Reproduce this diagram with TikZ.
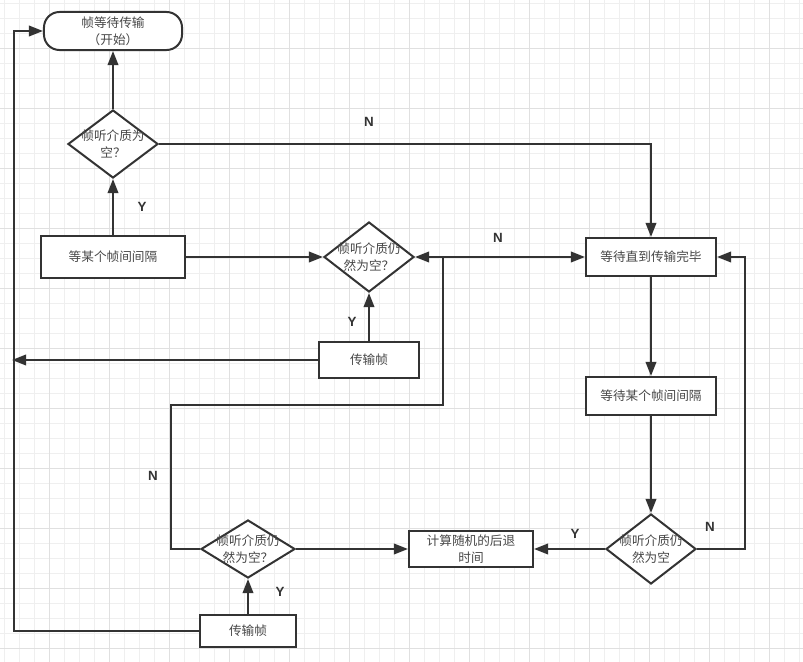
\documentclass[tikz,border=0pt]{standalone}
\usepackage{fontspec}
\setmainfont{Liberation Sans}
\newfontfamily\cjk{Noto Sans CJK SC}
\usetikzlibrary{arrows.meta,shapes.geometric}

\definecolor{linegray}{HTML}{333333}
\definecolor{textgray}{HTML}{474747}
\definecolor{gridminor}{HTML}{EFEFEF}
\definecolor{gridmajor}{HTML}{E0E0E0}

\begin{document}
\begin{tikzpicture}[x=0.025cm, y=-0.025cm, >={Triangle[length=10pt,width=7.5pt]}]
    \tikzstyle{procbox} = [rectangle, draw=linegray, line width=0.05cm, fill=white, text=textgray, font=\cjk\fontsize{9}{12}\selectfont, align=center, inner sep=0pt];
    \tikzstyle{startbox} = [procbox, rounded corners=11pt];
    \tikzstyle{decision} = [diamond, draw=linegray, line width=0.05cm, fill=white, inner sep=0pt];
    \tikzstyle{dtext} = [text=textgray, font=\cjk\fontsize{9}{12}\selectfont, align=center];
    \tikzstyle{flow} = [draw=linegray, line width=0.05cm];
    \tikzstyle{yn} = [text=linegray, font=\bfseries\fontsize{9.5}{11}\selectfont];

    % background grid
    \useasboundingbox (0,0) rectangle (803,662);
    \fill[white] (0,0) rectangle (803,662);
    \foreach \gx in {4,19,...,799} \draw[gridminor, line width=0.5pt] (\gx,0) -- (\gx,662);
    \foreach \gy in {3,18,...,648} \draw[gridminor, line width=0.5pt] (0,\gy) -- (803,\gy);
    \foreach \gx in {49,109,...,769} \draw[gridmajor, line width=0.5pt] (\gx,0) -- (\gx,662);
    \foreach \gy in {48,108,...,648} \draw[gridmajor, line width=0.5pt] (0,\gy) -- (803,\gy);

    % left column
    \node[startbox, minimum width=3.45cm, minimum height=0.95cm] (start) at (113,31) {帧等待传输\\（开始）};
    \node[decision, minimum width=2.25cm, minimum height=1.7cm, label={[dtext]center:帧听介质为\\空？}] (sense1) at (113,144) {};
    \node[procbox, minimum width=3.6cm, minimum height=1.05cm] (ifs1) at (113,257) {等某个帧间间隔};

    % middle column
    \node[decision, minimum width=2.25cm, minimum height=1.75cm, label={[dtext]center:帧听介质仍\\然为空？}] (sense2) at (369,257) {};
    \node[procbox, minimum width=2.5cm, minimum height=0.9cm] (send1) at (369,360) {传输帧};

    % right column
    \node[procbox, minimum width=3.25cm, minimum height=0.95cm] (busy) at (651,257) {等待直到传输完毕};
    \node[procbox, minimum width=3.25cm, minimum height=0.95cm] (ifs2) at (651,396) {等待某个帧间间隔};
    \node[decision, minimum width=2.25cm, minimum height=1.75cm, label={[dtext]center:帧听介质仍\\然为空}] (sense4) at (651,549) {};

    % bottom row
    \node[procbox, minimum width=3.1cm, minimum height=0.9cm] (backoff) at (471,549) {计算随机的后退\\时间};
    \node[decision, minimum width=2.35cm, minimum height=1.45cm, label={[dtext]center:帧听介质仍\\然为空？}] (sense3) at (248,549) {};
    \node[procbox, minimum width=2.4cm, minimum height=0.8cm] (send2) at (248,631) {传输帧};

    \coordinate (ltop) at (14,31);
    \coordinate (lmid) at (12,360);
    \coordinate (njoin) at (443,257);
    \coordinate (nbend) at (171,405);
    \coordinate (rbend) at (745,549);

    \draw[flow,->] (sense1.north) -- (start.south);
    \draw[flow,->] (ifs1.north) -- (sense1.south);
    \draw[flow,->] (ifs1.east) -- (sense2.west);
    \draw[flow,->] (sense1.east) -| (busy.north);
    \draw[flow,->] (send1.north) -- (sense2.south);
    \draw[flow,->] (send1.west) -- (lmid);
    \draw[flow,<->] (sense2.east) -- (busy.west);
    \draw[flow] (sense3.west) -| (nbend) -| (njoin);
    \draw[flow,->] (busy.south) -- (ifs2.north);
    \draw[flow,->] (ifs2.south) -- (sense4.north);
    \draw[flow,->] (sense4.east) -- (rbend) |- (busy.east);
    \draw[flow,->] (sense4.west) -- (backoff.east);
    \draw[flow,->] (sense3.east) -- (backoff.west);
    \draw[flow,->] (send2.north) -- (sense3.south);
    \draw[flow,->] (send2.west) -| (ltop) -- (start.west);

    % branch labels
    \node[yn] (y1) at (142,207) {Y};
    \node[yn] (n1) at (369,122) {N};
    \node[yn] (n2) at (498,238) {N};
    \node[yn] (y2) at (352,322) {Y};
    \node[yn] (n3) at (153,476) {N};
    \node[yn] (y3) at (575,534) {Y};
    \node[yn] (n4) at (710,527) {N};
    \node[yn] (y4) at (280,592) {Y};
\end{tikzpicture}
\end{document}
